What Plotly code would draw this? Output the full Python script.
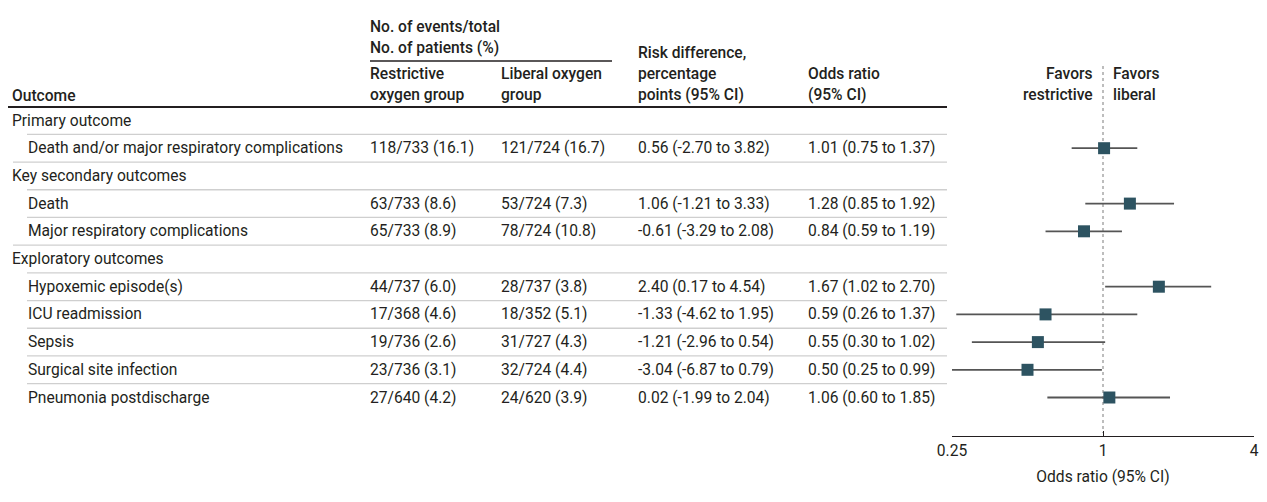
import plotly.graph_objects as go

# ---- data -------------------------------------------------------------
outcomes = [
    "Primary outcome",
    "Death and/or major respiratory complications",
    "Key secondary outcomes",
    "Death",
    "Major respiratory complications",
    "Exploratory outcomes",
    "Hypoxemic episode(s)",
    "ICU readmission",
    "Sepsis",
    "Surgical site infection",
    "Pneumonia postdischarge",
]
is_group = [True, False, True, False, False, True, False, False, False, False, False]

events_restrictive = [None, 118, None, 63, 65, None, 44, 17, 19, 23, 27]
total_restrictive = [None, 733, None, 733, 733, None, 737, 368, 736, 736, 640]
pct_restrictive = [None, 16.1, None, 8.6, 8.9, None, 6.0, 4.6, 2.6, 3.1, 4.2]

events_liberal = [None, 121, None, 53, 78, None, 28, 18, 31, 32, 24]
total_liberal = [None, 724, None, 724, 724, None, 737, 352, 727, 724, 620]
pct_liberal = [None, 16.7, None, 7.3, 10.8, None, 3.8, 5.1, 4.3, 4.4, 3.9]

risk_diff = [None, 0.56, None, 1.06, -0.61, None, 2.40, -1.33, -1.21, -3.04, 0.02]
risk_lo = [None, -2.70, None, -1.21, -3.29, None, 0.17, -4.62, -2.96, -6.87, -1.99]
risk_hi = [None, 3.82, None, 3.33, 2.08, None, 4.54, 1.95, 0.54, 0.79, 2.04]

odds_ratio = [None, 1.01, None, 1.28, 0.84, None, 1.67, 0.59, 0.55, 0.50, 1.06]
odds_lo = [None, 0.75, None, 0.85, 0.59, None, 1.02, 0.26, 0.30, 0.25, 0.60]
odds_hi = [None, 1.37, None, 1.92, 1.19, None, 2.70, 1.37, 1.02, 0.99, 1.85]

axis_ticks = [0.25, 1, 4]
axis_tick_labels = ["0.25", "1", "4"]

# ---- layout constants -------------------------------------------------
W, H = 1267, 502
FONT = "Roboto"
TEXT = "#231f20"
BODY = 15.6
FIRST_ROW_Y = 120.5
ROW_STEP = 27.7
AXIS_Y = 436          # pixel row of the odds-ratio axis line

col_outcome = 12
col_indent = 28
col_restr = 370
col_lib = 501
col_rd = 638
col_or = 808
table_right = 947

row_y = [FIRST_ROW_Y + i * ROW_STEP for i in range(len(outcomes))]


def px(x):
    return x / W


def fmt_num(v):
    return f"{v:.2f}"


annotations = []
shapes = []


def add_text(x, y, text, weight=400, size=BODY, anchor="left"):
    annotations.append(dict(
        x=px(x), y=y, xref="paper", yref="y", text=text, showarrow=False,
        xanchor=anchor, yanchor="middle", align=anchor,
        font=dict(family=FONT, size=size, color=TEXT, weight=weight),
        borderpad=0, borderwidth=0,
    ))


def hline(x0, x1, y, color, width):
    shapes.append(dict(type="line", xref="paper", yref="y",
                       x0=px(x0), x1=px(x1), y0=y, y1=y,
                       line=dict(color=color, width=width), layer="below"))


# ---- header -----------------------------------------------------------
HW = 500
add_text(col_restr, 27, "No. of events/total", HW)
add_text(col_restr, 48, "No. of patients (%)", HW)
hline(col_restr, 612, 61, "#231f20", 1.3)
add_text(col_restr, 74, "Restrictive", HW)
add_text(col_restr, 95, "oxygen group", HW)
add_text(col_lib, 74, "Liberal oxygen", HW)
add_text(col_lib, 95, "group", HW)
add_text(col_outcome, 96, "Outcome", HW)
add_text(col_rd, 53, "Risk difference,", HW)
add_text(col_rd, 74, "percentage", HW)
add_text(col_rd, 95, "points (95% CI)", HW)
add_text(col_or, 74, "Odds ratio", HW)
add_text(col_or, 95, "(95% CI)", HW)
add_text(1093, 74, "Favors", HW, anchor="right")
add_text(1093, 95, "restrictive", HW, anchor="right")
add_text(1113, 74, "Favors", HW)
add_text(1113, 95, "liberal", HW)
hline(8, table_right, 107, "#231f20", 2)

# ---- table body -------------------------------------------------------
for i, name in enumerate(outcomes):
    y = row_y[i]
    if i > 0:
        start = col_outcome + 1 if is_group[i] else col_indent - 1
        hline(start, table_right, y - ROW_STEP / 2, "#cfcfcf", 1.3)
    if is_group[i]:
        add_text(col_outcome, y, name)
        continue
    add_text(col_indent, y, name)
    add_text(col_restr, y,
             f"{events_restrictive[i]}/{total_restrictive[i]} ({pct_restrictive[i]:.1f})")
    add_text(col_lib, y,
             f"{events_liberal[i]}/{total_liberal[i]} ({pct_liberal[i]:.1f})")
    add_text(col_rd, y,
             f"{fmt_num(risk_diff[i])} ({fmt_num(risk_lo[i])} to {fmt_num(risk_hi[i])})")
    add_text(col_or, y,
             f"{fmt_num(odds_ratio[i])} ({fmt_num(odds_lo[i])} to {fmt_num(odds_hi[i])})")

# ---- forest plot ------------------------------------------------------
ci_x, ci_y, pt_x, pt_y = [], [], [], []
for i in range(len(outcomes)):
    if odds_ratio[i] is None:
        continue
    ci_x += [odds_lo[i], odds_hi[i], None]
    ci_y += [row_y[i], row_y[i], None]
    pt_x.append(odds_ratio[i])
    pt_y.append(row_y[i])

# reference line at OR = 1
shapes.append(dict(type="line", xref="x", yref="y", x0=1, x1=1, y0=66, y1=433,
                   line=dict(color="#9a9a9a", width=1.3, dash="dot"), layer="below"))

fig = go.Figure()
fig.add_trace(go.Scatter(x=ci_x, y=ci_y, mode="lines",
                         line=dict(color="#555555", width=1.8),
                         hoverinfo="skip", showlegend=False))
fig.add_trace(go.Scatter(x=pt_x, y=pt_y, mode="markers",
                         marker=dict(symbol="square", size=12, color="#2d5361",
                                     line=dict(width=0)),
                         showlegend=False))

fig.update_layout(
    width=W, height=H,
    margin=dict(l=0, r=0, t=0, b=0, pad=0, autoexpand=False),
    paper_bgcolor="white", plot_bgcolor="white",
    font=dict(family=FONT, size=BODY, color=TEXT),
    annotations=annotations,
    shapes=shapes,
    xaxis=dict(
        type="log", domain=[952 / W, 1254 / W],
        range=[-0.60206, 0.60206],
        tickvals=axis_ticks, ticktext=axis_tick_labels,
        ticks="inside", ticklen=5, tickwidth=1.3, tickcolor="#231f20",
        showline=True, linecolor="#231f20", linewidth=1.3,
        showgrid=False, zeroline=False, automargin=False,
        tickfont=dict(family=FONT, size=BODY, color=TEXT),
        title=dict(text="Odds ratio (95% CI)", standoff=12,
                   font=dict(family=FONT, size=BODY, color=TEXT)),
        fixedrange=True,
    ),
    yaxis=dict(
        domain=[1 - AXIS_Y / H, 1], range=[AXIS_Y, 0],
        visible=False, showgrid=False, zeroline=False, fixedrange=True,
        automargin=False,
    ),
)

fig.write_html("out.html")
